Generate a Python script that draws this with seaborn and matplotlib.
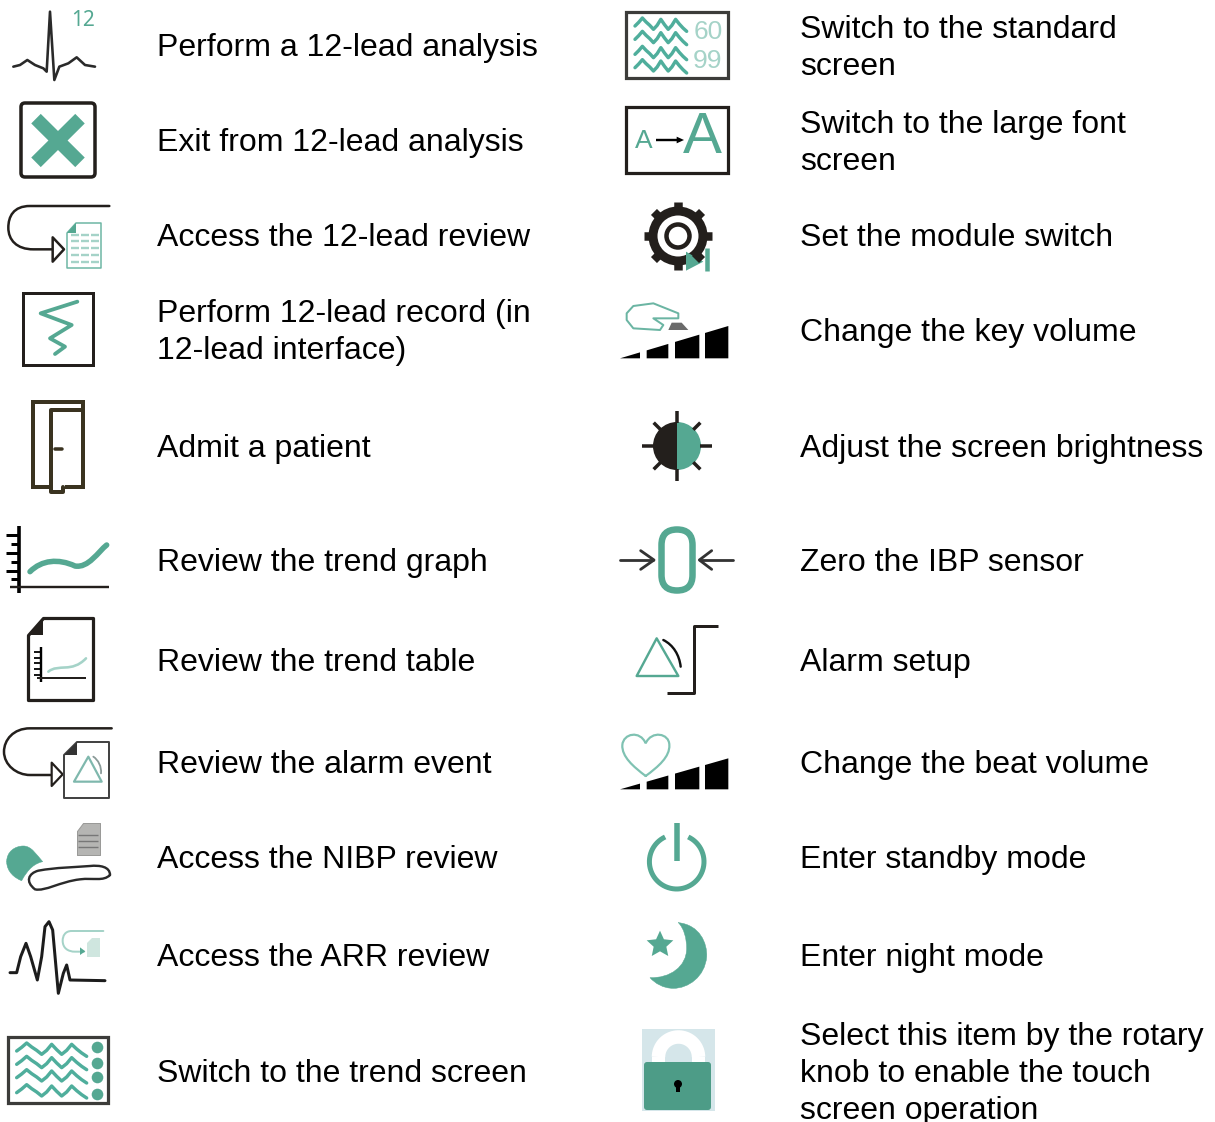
import numpy as np
import seaborn as sns
import matplotlib.pyplot as plt
from matplotlib.path import Path
from matplotlib.patches import PathPatch, Polygon, Rectangle, FancyBboxPatch, Ellipse, Wedge

# label text, one list per column, "\n" where the source wraps
left_labels = ["Perform a 12-lead analysis", "Exit from 12-lead analysis", "Access the 12-lead review",
               "Perform 12-lead record (in\n12-lead interface)", "Admit a patient", "Review the trend graph",
               "Review the trend table", "Review the alarm event", "Access the NIBP review",
               "Access the ARR review", "Switch to the trend screen"]
right_labels = ["Switch to the standard\nscreen", "Switch to the large font\nscreen", "Set the module switch",
                "Change the key volume", "Adjust the screen brightness", "Zero the IBP sensor", "Alarm setup",
                "Change the beat volume", "Enter standby mode", "Enter night mode",
                "Select this item by the rotary\nknob to enable the touch\nscreen operation"]
left_y = [45, 140, 235, 329.5, 446, 560, 660, 762, 857, 955, 1071]
right_y = [45.5, 140.5, 235, 330, 446, 560, 660, 762, 857, 955, 1071]

TEAL = "#55a892"
PALE = "#a5d3c8"
DARK = "#231f1c"
GREY = "#9a9a98"

sns.set_theme(style="white")
plt.rcParams["font.family"] = ["Liberation Sans", "DejaVu Sans"]

fig = plt.figure(figsize=(12.15, 11.22), dpi=100)
ax = fig.add_axes([0, 0, 1, 1])


def z(pts, ox=0, oy=0):
    return [(ox + x / 3, oy + y / 3) for x, y in pts]


def line(pts, color=DARK, w=2.5, ox=0, oy=0, cap="round"):
    p = z(pts, ox, oy)
    sns.lineplot(x=[a for a, b in p], y=[b for a, b in p], sort=False, estimator=None, color=color,
                 linewidth=w * 0.72, solid_capstyle=cap, solid_joinstyle="round", ax=ax, legend=False)


def curve(pts, color=DARK, w=2.5, ox=0, oy=0, fill=None):
    # pts: start point followed by cubic bezier triples
    codes = [Path.MOVETO] + [Path.CURVE4] * (len(pts) - 1)
    ax.add_patch(PathPatch(Path(z(pts, ox, oy), codes), fc=fill or "none", ec=color, lw=w * 0.72,
                           capstyle="round"))


def poly(pts, fc=DARK, ec="none", w=0, ox=0, oy=0):
    ax.add_patch(Polygon(z(pts, ox, oy), closed=True, fc=fc, ec=ec, lw=w * 0.72, joinstyle="round"))


def box(x0, x1, y0, y1, ec=DARK, w=3, round_=False):
    if round_:
        ax.add_patch(FancyBboxPatch((x0 + 4, y0 + 4), x1 - x0 - 8, y1 - y0 - 8, boxstyle="round,pad=4",
                                    fc="none", ec=ec, lw=w * 0.72))
    else:
        ax.add_patch(Rectangle((x0, y0), x1 - x0, y1 - y0, fc="none", ec=ec, lw=w * 0.72))


def waves(rows, x0, x1, ox, oy, w=3.4):
    # wavy traces of the screen icons
    steps = [8, -3, -16, -4, 6, 18, 6, -12, 4, 18, 6, -12, 2, 14, 24]
    for y in rows:
        xs = np.linspace(x0, x1, len(steps))
        line(list(zip(xs, [y + s for s in steps])), "#4fae9c", w, ox, oy)


def bars(base, top, ox, oy):
    # rising volume blocks, top edge on one slope
    for a, b in [(30, 90), (110, 175), (195, 268), (285, 355)]:
        f = lambda x: base - (base - top) * (x - 30) / 325
        poly([(a, base), (a, f(a)), (b, f(b)), (b, base)], "black", ox=ox, oy=oy)


# ---- left column icons ----
line([(40, 200), (60, 195), (82, 180), (105, 195), (130, 205), (140, 215), (150, 35), (163, 240), (178, 200),
      (205, 190), (230, 172), (255, 195), (285, 200)], "#2a2a2a", 2.6)
ax.text(83, 20, "12", color=TEAL, fontsize=15, ha="center", va="center", fontfamily="Noto Sans", fontweight="bold")

box(21, 95, 103, 177, w=3.5, round_=True)
line([(108, 356), (240, 487)], TEAL, 13.5, cap="butt")
line([(240, 356), (108, 487)], TEAL, 13.5, cap="butt")

curve([(328, 618), (250, 618), (170, 618), (90, 618), (40, 618), (25, 650), (25, 683), (25, 720), (50, 748),
       (100, 748), (120, 748), (140, 748), (158, 748)])
poly([(158, 712), (158, 785), (192, 748)], "white", DARK, 2.5)
poly([(228, 670), (302, 670), (302, 803), (200, 803), (200, 698)], "white", "#6bb5a3", 1.5)
poly([(228, 670), (228, 698), (200, 698)], TEAL)
for yy in [705, 722, 745, 765, 785]:
    for a, b in [(212, 238), (244, 268), (274, 296)]:
        line([(a, yy), (b, yy)], PALE, 2.4, cap="butt")

box(23, 93, 293, 365, w=3)
line([(232, 905), (122, 940), (215, 975), (150, 1015), (195, 1040), (165, 1062)], TEAL, 3.8)

door = "#3a3320"
box(33, 83, 402, 487, ec=door, w=4)
ax.add_patch(Rectangle((52, 485), 12.5, 5, fc="white", ec="none"))
line([(248, 90), (152, 90), (152, 335), (190, 335), (190, 320)], door, 4, oy=380)
line([(165, 208), (185, 208)], door, 3.5, oy=380)

line([(57, 437), (57, 640)], "black", 3.6, oy=380, cap="butt")
line([(30, 620), (328, 620)], DARK, 2.4, oy=380, cap="butt")
for yy, x_start in [(465, 18), (492, 32), (520, 18), (545, 32), (572, 18), (597, 32)]:
    line([(x_start, yy), (57, yy)], "black", 3, oy=380, cap="butt")
curve([(90, 575), (125, 540), (175, 535), (225, 558), (265, 565), (295, 515), (320, 495)], TEAL, 5.5, oy=380)

poly([(130, 715), (280, 715), (280, 960), (83, 960), (83, 765)], "white", DARK, 3.2, oy=380)
poly([(130, 715), (130, 765), (83, 765)], DARK, oy=380)
line([(122, 800), (122, 905)], "black", 2.4, oy=380, cap="butt")
line([(110, 895), (258, 895)], DARK, 2, oy=380, cap="butt")
for yy in [815, 833, 850, 868, 885]:
    line([(103, yy), (122, yy)], "black", 1.8, oy=380, cap="butt")
curve([(145, 875), (175, 850), (215, 880), (258, 835)], PALE, 2.6, oy=380)

curve([(335, 1045), (250, 1045), (170, 1045), (90, 1045), (40, 1045), (12, 1080), (12, 1115), (12, 1155), (50, 1185),
       (90, 1185), (110, 1185), (135, 1185), (155, 1185)], oy=380)
poly([(155, 1148), (155, 1218), (188, 1183)], "white", DARK, 2.2, oy=380)
poly([(232, 1085), (328, 1085), (328, 1255), (192, 1255), (192, 1125)], "white", "#444", 2, oy=380)
poly([(232, 1085), (232, 1125), (192, 1125)], "#333", oy=380)
poly([(265, 1130), (222, 1205), (305, 1205)], "none", "#7fb8ad", 2.2, oy=380)
curve([(280, 1130), (295, 1140), (305, 1160), (303, 1180)], "#8a9a98", 1.8, oy=380)

# cuff and arm
curve([(20, 155), (20, 125), (45, 108), (70, 108), (95, 108), (110, 135), (128, 155), (105, 160), (85, 175), (65, 212),
       (45, 205), (20, 185), (20, 155)], TEAL, 0.5, oy=810, fill=TEAL)
poly([(250, 40), (300, 40), (300, 135), (230, 135), (230, 62)], "#b5b5b3", GREY, 1, oy=810)
for yy in [75, 92, 110]:
    line([(235, yy), (295, yy)], "#777", 1.4, oy=810, cap="butt")
curve([(330, 195), (330, 170), (300, 165), (270, 168), (220, 172), (170, 172), (115, 182), (85, 190), (75, 215), (105, 238),
       (135, 245), (180, 215), (240, 208), (280, 203), (310, 215), (330, 195)], "#2a2a2a", 2.4, oy=810)

line([(30, 488), (50, 488), (62, 440), (78, 400), (92, 440), (112, 510), (125, 440), (135, 350), (147, 335), (158, 360),
      (175, 550), (190, 490), (200, 465), (210, 510), (315, 512)], "#1c1c1c", 3, oy=810)
curve([(310, 363), (280, 363), (250, 363), (215, 363), (195, 363), (188, 378), (188, 392), (188, 415), (205, 425),
       (225, 425), (235, 425), (245, 425), (252, 425)], PALE, 2, oy=810)
poly([(240, 412), (240, 435), (256, 424)], TEAL, oy=810)
poly([(275, 385), (300, 385), (300, 440), (260, 440), (260, 400)], "#cfe6df", oy=810)

box(7.5, 108, 1037, 1103, ec="#3c3c3a", w=3.2)
waves([715, 755, 795, 840], 50, 260, 0, 810)
sns.scatterplot(x=[97, 97, 97, 97], y=[1047, 1063, 1077, 1094], color=TEAL, s=70, linewidth=0, ax=ax, legend=False)

# ---- right column icons ----
X = 610
box(626, 728, 12, 78, ec="#3c3c3a", w=3.2)
waves([70, 110, 155, 195], 75, 230, X, 0)
ax.text(708, 32, "60", color=PALE, fontsize=19, ha="center", va="center")
ax.text(708, 61, "99", color=PALE, fontsize=19, ha="center", va="center")

box(626, 728, 107, 173, w=3.2)
ax.text(644, 141, "A", color=TEAL, fontsize=19, ha="center", va="center")
ax.text(702, 138, "A", color=TEAL, fontsize=42, ha="center", va="center")
line([(138, 420), (210, 420)], "black", 2.4, X, 0, cap="butt")
poly([(200, 410), (222, 420), (200, 430)], "black", ox=X)

# gear
for a in np.arange(0, 360, 45):
    c, s = np.cos(np.radians(a)), np.sin(np.radians(a))
    ax.plot([678 + 24 * c, 678 + 34 * c], [236 + 24 * s, 236 + 34 * s], color=DARK, lw=8.5 * 0.72,
            solid_capstyle="butt")
ax.add_patch(Ellipse((678, 236), 50, 50, fc="none", ec=DARK, lw=9 * 0.72))
ax.add_patch(Ellipse((678, 236), 23, 23, fc="none", ec=DARK, lw=4.5 * 0.72))
poly([(228, 755), (228, 812), (280, 785)], TEAL, ox=X)
line([(290, 745), (290, 812)], TEAL, 4.5, X, 0, cap="butt")

poly([(50, 940), (70, 918), (130, 910), (205, 940), (205, 955), (130, 955), (160, 975), (150, 990), (70, 985),
      (50, 960)], "white", "#6bb5a3", 2, ox=X)
poly([(175, 990), (185, 968), (215, 968), (235, 990)], "#6a6a6a", ox=X)
bars(1075, 978, X, 0)

ax.add_patch(Wedge((677, 446), 24, 90, 270, fc=DARK, ec="none"))
ax.add_patch(Wedge((677, 446), 24, -90, 90, fc=TEAL, ec="none"))
for a in range(0, 360, 45):
    c, s = np.cos(np.radians(a)), np.sin(np.radians(a))
    r = 35 if a % 90 == 0 else 33
    ax.plot([677 + 23 * c, 677 + r * c], [446 + 23 * s, 446 + r * s], color=DARK, lw=3.5 * 0.72, solid_capstyle="butt")

ax.add_patch(FancyBboxPatch((677, 545), 0.01, 30, boxstyle="round,pad=15.5,rounding_size=15.5", fc="none", ec=TEAL,
                            lw=6.5 * 0.72))
line([(30, 540), (130, 540)], "#333", 2.8, X, 380)
line([(92, 512), (132, 540), (92, 568)], "#333", 2.8, X, 380)
line([(368, 540), (270, 540)], "#333", 2.8, X, 380)
line([(305, 512), (268, 540), (305, 568)], "#333", 2.8, X, 380)

poly([(140, 775), (80, 888), (205, 888)], "none", TEAL, 2.4, X, 380)
curve([(160, 780), (190, 795), (208, 825), (212, 860)], "#111", 2.4, X, 380)
line([(325, 738), (252, 738), (252, 938), (170, 938)], DARK, 3, X, 380, cap="butt")

curve([(107, 1188), (70, 1160), (35, 1130), (37, 1095), (40, 1060), (90, 1050), (107, 1090), (125, 1050), (178, 1060),
       (178, 1095), (180, 1130), (145, 1160), (107, 1188)], "#7fc2b2", 2.2, X, 380)
bars(1228, 1135, X, 380)

t = np.radians(np.linspace(115, 425, 60))
ax.plot(676.7 + 27.3 * np.cos(t), 861.7 - 27.3 * np.sin(t), color=TEAL, lw=5 * 0.72, solid_capstyle="butt")
ax.plot([676.7, 676.7], [823, 860.5], color=TEAL, lw=5.5 * 0.72, solid_capstyle="butt")

curve([(205, 338), (270, 345), (292, 400), (290, 440), (285, 500), (235, 535), (190, 535), (160, 535), (135, 520),
       (120, 503), (180, 505), (230, 470), (230, 415), (230, 385), (222, 355), (205, 338)], TEAL, 0.5, X, 810, TEAL)
a = np.radians(np.arange(0, 360, 36) - 90)
r = np.array([42, 20] * 5)
poly(list(zip(150 + r * np.cos(a), 404 + r * np.sin(a))), TEAL, ox=X, oy=810)

ax.add_patch(Rectangle((642, 1029), 73, 82, fc="#d5e6ea", ec="none"))
t = np.radians(np.linspace(0, 180, 40))
ax.plot(678.5 + 20 * np.cos(t), 1057 - 20 * np.sin(t), color="white", lw=13.5 * 0.72, solid_capstyle="butt")
ax.add_patch(Rectangle((652, 1057), 53, 10, fc="#d5e6ea", ec="none"))
ax.add_patch(Rectangle((652, 1057), 13, 10, fc="white", ec="none"))
ax.add_patch(Rectangle((692, 1057), 13, 10, fc="white", ec="none"))
ax.add_patch(FancyBboxPatch((647, 1065), 61, 42, boxstyle="round,pad=3", fc="#4d9c87", ec="none"))
ax.add_patch(Ellipse((678, 1084), 8, 8, fc="black", ec="none"))
ax.add_patch(Rectangle((676, 1085), 4, 7, fc="black", ec="none"))

# ---- labels ----
for labels, ys, x in [(left_labels, left_y, 157), (right_labels, right_y, 800)]:
    for label, y in zip(labels, ys):
        lines = label.split("\n")
        first = y - 37 * (len(lines) - 1) / 2
        for i, s in enumerate(lines):
            ax.text(x, first + 37 * i + 11, s, fontsize=23, color="black", ha="left", va="baseline")

ax.set_xlim(0, 1215)
ax.set_ylim(1122, 0)
ax.axis("off")
fig.savefig("out.png", dpi=100)
